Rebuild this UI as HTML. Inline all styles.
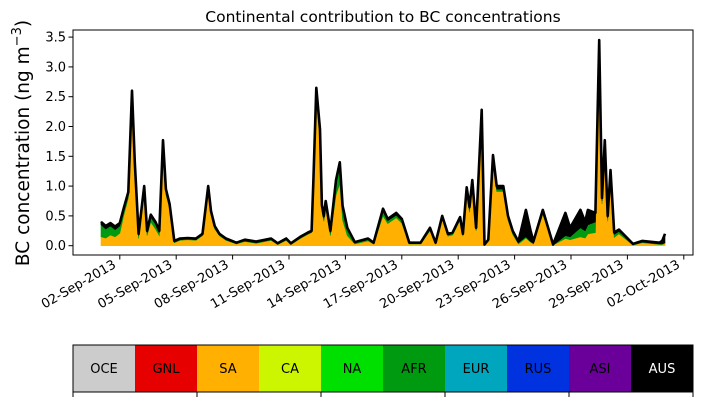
<!DOCTYPE html>
<html><head><meta charset="utf-8"><style>
body{margin:0;background:#fff}
svg{display:block;font-family:"DejaVu Sans","Liberation Sans",sans-serif}
</style></head><body>
<svg id="chart" width="703" height="402" viewBox="0 0 703 402">
<text x="383" y="22" font-size="15.5" text-anchor="middle">Continental contribution to BC concentrations</text>
<text transform="translate(29,143) rotate(-90)" font-size="18.5" text-anchor="middle">BC concentration (ng m<tspan dy="-8" font-size="13">−3</tspan><tspan dy="8">)</tspan></text>
<g id="plot"></g>
<g id="xticks"></g>
<g id="yticks"></g>
<rect x="73" y="30" width="620" height="225" fill="none" stroke="#000" stroke-width="1"/>
<g id="cbar"></g>
</svg>
<script>
// days since 01-Sep-2013 00:00
const times=[0,0.25,0.5,0.75,1.0,1.2,1.45,1.65,1.8,2.0,2.3,2.45,2.65,2.9,3.1,3.3,3.45,3.65,3.9,4.2,4.6,5.05,5.4,5.7,5.85,6.05,6.3,6.65,7.2,7.65,8.25,9.05,9.4,9.85,10.1,10.6,11.0,11.2,11.3,11.45,11.65,11.75,11.85,11.95,12.2,12.5,12.7,12.85,13.1,13.5,14.2,14.5,15.0,15.25,15.7,16.0,16.4,17.0,17.5,17.8,18.15,18.45,18.7,19.1,19.25,19.45,19.6,19.75,19.95,20.25,20.4,20.6,20.85,21.05,21.4,21.65,21.9,22.2,22.6,22.85,23.0,23.5,24.05,24.7,24.95,25.5,25.75,25.9,26.3,26.5,26.65,26.8,26.95,27.1,27.3,27.55,28.3,28.8,29.7,29.85,30.0];
const sa=[.15,.13,.18,.15,.21,.50,.80,2.47,1.30,.12,.90,.17,.40,.28,.17,1.66,.86,.63,.05,.09,.10,.09,.17,.94,.53,.28,.17,.09,.03,.07,.04,.09,.02,.09,.02,.12,.19,.22,1.04,2.52,1.79,.59,.41,.63,.17,.85,1.04,.43,.17,.03,.08,.03,.50,.37,.47,.38,.03,.03,.25,.03,.45,.16,.18,.43,.16,.87,.56,1.00,.25,2.15,.01,.07,1.40,.91,.91,.43,.19,.03,.13,.06,.03,.53,.01,.12,.10,.15,.13,.20,.22,3.30,.70,1.66,.41,1.17,.14,.20,.01,.05,.02,.02,.04];
const afr=[.20,.15,.15,.12,.12,.08,.06,.05,.05,.05,.05,.05,.08,.08,.05,.05,.04,.03,.01,.01,.01,.01,.01,.02,.02,.02,.01,.01,.01,.01,.01,.01,.01,.01,.01,.01,.01,.01,.02,.05,.10,.05,.05,.08,.05,.20,.30,.20,.10,.02,.02,.01,.08,.05,.04,.04,.01,.01,.02,.01,.02,.02,.02,.02,.02,.06,.05,.05,.02,.05,0,.01,.06,.04,.04,.03,.03,.02,.02,.01,.01,.02,0,.05,.05,.15,.12,.15,.18,.05,.05,.05,.05,.05,.05,.04,.01,.01,.01,.01,.01];
const aus=[.05,.05,.05,.05,.05,.04,.04,.08,.05,.03,.05,.03,.04,.04,.03,.06,.05,.04,.02,.02,.02,.02,.02,.04,.03,.03,.02,.02,.01,.02,.02,.02,.01,.02,.01,.02,.02,.02,.04,.08,.06,.04,.04,.04,.03,.05,.06,.04,.03,.01,.02,.01,.04,.03,.04,.03,.01,.01,.03,.01,.03,.02,.02,.03,.02,.05,.04,.05,.03,.08,.01,.02,.06,.05,.05,.04,.03,.02,.45,.18,.03,.05,.01,.38,.15,.30,.15,.25,.15,.10,.05,.06,.04,.05,.03,.03,.01,.02,.02,.05,.15];
const yTicks=[0,0.5,1.0,1.5,2.0,2.5,3.0,3.5];
const xTickLabels=["02-Sep-2013","05-Sep-2013","08-Sep-2013","11-Sep-2013","14-Sep-2013","17-Sep-2013","20-Sep-2013","23-Sep-2013","26-Sep-2013","29-Sep-2013","02-Oct-2013"];
const xTickDays=[1,4,7,10,13,16,19,22,25,28,31];
const regions=["OCE","GNL","SA","CA","NA","AFR","EUR","RUS","ASI","AUS"];
const regionColors=["#cccccc","#e60000","#ffb000","#ccf600","#00e000","#009a10","#00a6be","#0032e0","#6a0099","#000000"];

const NS="http://www.w3.org/2000/svg";
const X=d=>101+d*18.8;
const Y=v=>245.7-v*59.6;
function mk(tag,attrs,parent){const e=document.createElementNS(NS,tag);for(const k in attrs)e.setAttribute(k,attrs[k]);parent.appendChild(e);return e;}
const plot=document.getElementById('plot');
const layers=[{vals:sa,color:"#ffb000",name:"area-sa"},{vals:afr,color:"#009a10",name:"area-afr"},{vals:aus,color:"#000000",name:"area-aus"}];
let base=times.map(()=>0);
layers.forEach(L=>{
  const top=base.map((b,i)=>b+L.vals[i]);
  let d="M"+times.map((t,i)=>X(t).toFixed(1)+","+Y(top[i]).toFixed(1)).join("L");
  for(let i=times.length-1;i>=0;i--)d+="L"+X(times[i]).toFixed(1)+","+Y(base[i]).toFixed(1);
  const p=mk('path',{d:d+"Z",fill:L.color,stroke:L.color,"stroke-width":"0.6"},plot);
  
  
  base=top;
});
const tl=mk('path',{d:"M"+times.map((t,i)=>X(t).toFixed(1)+","+Y(base[i]).toFixed(1)).join("L"),fill:"none",stroke:"#000","stroke-width":"2.6","stroke-linejoin":"round"},plot);



const yg=document.getElementById('yticks');
yTicks.forEach(v=>{
  const y=Y(v);
  const l=mk('line',{x1:68.5,x2:73,y1:y,y2:y,stroke:"#000"},yg);
  
  
  const t=mk('text',{x:66,y:y+4.5,"font-size":"13","text-anchor":"end"},yg);
  t.textContent=v.toFixed(1);
  
  
});
const xg=document.getElementById('xticks');
xTickDays.forEach((d,i)=>{
  const x=X(d);
  const l=mk('line',{x1:x,x2:x,y1:255,y2:259.5,stroke:"#000"},xg);
  
  
  const t=mk('text',{transform:`translate(${x-3},${267}) rotate(-30)`,"font-size":"13","text-anchor":"end"},xg);
  t.textContent=xTickLabels[i];
  
  
});
const cb=document.getElementById('cbar');
regions.forEach((r,i)=>{
  const x=73+i*62;
  const rc=mk('rect',{x:x,y:345,width:62,height:47,fill:regionColors[i]},cb);
  
  
  const t=mk('text',{x:x+31,y:373,"font-size":"13","text-anchor":"middle",fill:r==="AUS"?"#fff":"#000"},cb);
  t.textContent=r;
  
  
});
const fr=mk('rect',{x:73,y:345,width:620,height:47,fill:"none",stroke:"#000"},cb);


[0,2,4,6,8,10].forEach(k=>{
  const l=mk('line',{x1:73+k*62,x2:73+k*62,y1:392,y2:397,stroke:"#000"},cb);
  
  
});
</script>
</body></html>
